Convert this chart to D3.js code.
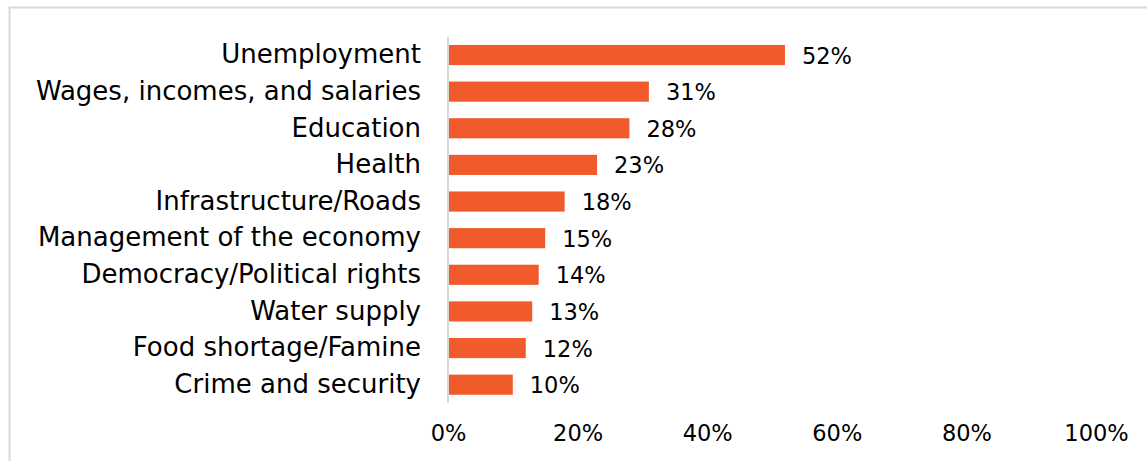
<!DOCTYPE html>
<html>
<head>
<meta charset="utf-8">
<script src="https://cdn.jsdelivr.net/npm/d3@7"></script>
<style>
  html, body { margin: 0; padding: 0; background: #fff; }
  svg { display: block; }
  text { font-family: "DejaVu Sans", sans-serif; fill: #000; }
</style>
</head>
<body>
<svg id="chart" width="1147" height="461"></svg>
<script>
// Share of respondents naming each issue among the most important problems
const categories = [
  "Unemployment",
  "Wages, incomes, and salaries",
  "Education",
  "Health",
  "Infrastructure/Roads",
  "Management of the economy",
  "Democracy/Political rights",
  "Water supply",
  "Food shortage/Famine",
  "Crime and security"
];
const values = [52, 31, 28, 23, 18, 15, 14, 13, 12, 10];
const tickValues = [0, 20, 40, 60, 80, 100];

const svg = d3.select("#chart");
const W = 1147, H = 461;

// outer frame (open on the right and bottom edges of the canvas)
svg.append("rect")
  .attr("x", 9.5).attr("y", 7.5)
  .attr("width", W + 10).attr("height", H + 10)
  .attr("fill", "none").attr("stroke", "#d9d9d9").attr("stroke-width", 2);

const x = d3.scaleLinear().domain([0, 100]).range([448, 1096]);
const y = d3.scaleBand().domain(categories).range([36.7, 403]).paddingInner(0.45).paddingOuter(0.225);

// bars
svg.append("g").selectAll("rect")
  .data(categories)
  .join("rect")
  .attr("x", x(0) + 1)
  .attr("y", d => y(d))
  .attr("width", (d, i) => x(values[i]) - x(0) - 1)
  .attr("height", y.bandwidth())
  .attr("fill", "#f15a2b");

// value labels
svg.append("g").selectAll("text")
  .data(categories)
  .join("text")
  .attr("x", (d, i) => x(values[i]) + 17)
  .attr("y", d => y(d) + y.bandwidth() / 2)
  .attr("dy", "0.38em")
  .attr("font-size", 22.5)
  .text((d, i) => values[i] + "%");

// category axis
const yAxis = svg.append("g")
  .attr("transform", `translate(${x(0)},0)`)
  .call(d3.axisLeft(y).tickSize(0).tickPadding(27));
yAxis.select(".domain").attr("stroke", "#d9d9d9").attr("stroke-width", 2)
  .attr("d", `M0,${36.7}V${403}`);
yAxis.selectAll(".tick text")
  .attr("font-size", 26)
  .attr("font-family", "DejaVu Sans, sans-serif")
  .attr("fill", "#000");

// value axis (labels only)
const xAxis = svg.append("g")
  .attr("transform", `translate(0,${403})`)
  .call(d3.axisBottom(x).tickValues(tickValues).tickSize(0).tickPadding(22).tickFormat(d => d + "%"));
xAxis.select(".domain").remove();
xAxis.selectAll(".tick text")
  .attr("font-size", 22.5)
  .attr("font-family", "DejaVu Sans, sans-serif")
  .attr("fill", "#000");
</script>
</body>
</html>
